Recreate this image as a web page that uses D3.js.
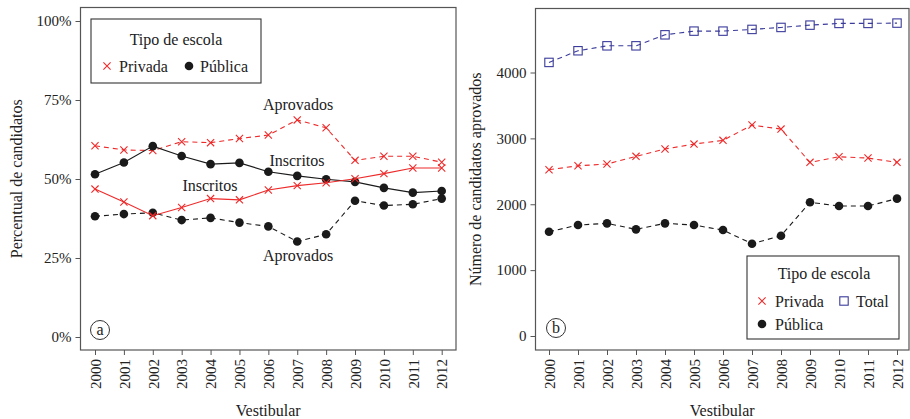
<!DOCTYPE html>
<html>
<head>
<meta charset="utf-8">
<script src="https://cdn.jsdelivr.net/npm/d3@7"></script>
<style>
  body { margin: 0; background: #fff; }
  svg text { font-family: "Liberation Serif", "DejaVu Serif", serif; fill: #222; }
</style>
</head>
<body>
<div id="chart"></div>
<script>
// data

const years = [2000, 2001, 2002, 2003, 2004, 2005, 2006, 2007, 2008, 2009, 2010, 2011, 2012];

// panel a: percent of candidates
const privInscritos = [46.8, 42.7, 38.4, 41.0, 43.8, 43.4, 46.5, 47.9, 48.8, 50.1, 51.7, 53.5, 53.5];
const privAprovados = [60.5, 59.2, 59.0, 61.8, 61.5, 62.8, 63.9, 68.7, 66.2, 55.9, 57.2, 57.2, 55.3];
const pubInscritos = [51.5, 55.2, 60.4, 57.3, 54.7, 55.1, 52.3, 51.0, 49.9, 49.1, 47.2, 45.7, 46.2];
const pubAprovados = [38.2, 38.9, 39.3, 37.0, 37.7, 36.2, 35.0, 30.2, 32.5, 43.1, 41.6, 42.0, 43.8];

// panel b: number of approved candidates
const totalAprov = [4153, 4330, 4405, 4405, 4572, 4628, 4628, 4654, 4684, 4719, 4745, 4745, 4750];
const privAprovN = [2524, 2584, 2610, 2727, 2838, 2913, 2970, 3202, 3141, 2636, 2721, 2701, 2636];
const pubAprovN = [1583, 1684, 1710, 1619, 1710, 1684, 1608, 1401, 1522, 2030, 1973, 1973, 2085];

const pctTicks = [0, 0.25, 0.5, 0.75, 1];
const numTicks = [0, 1000, 2000, 3000, 4000];

const RED = "#ee2a2a";
const BLUE = "#3b3b9c";
const BLACK = "#1a1a1a";
const FS = "16px";

const svg = d3.select("#chart")
  .append("svg")
  .attr("width", 910)
  .attr("height", 419);

// markers

function drawMarker(g, shape, x, y, color) {
  if (shape === "dot") {
    g.append("circle").attr("cx", x).attr("cy", y).attr("r", 4.3).attr("fill", color);
  } else if (shape === "cross") {
    const s = 3.6;
    g.append("path")
      .attr("d", `M${x - s},${y - s}L${x + s},${y + s}M${x - s},${y + s}L${x + s},${y - s}`)
      .attr("stroke", color).attr("stroke-width", 1.1).attr("fill", "none");
  } else {
    g.append("rect").attr("x", x - 4.2).attr("y", y - 4.2).attr("width", 8.4).attr("height", 8.4)
      .attr("stroke", color).attr("stroke-width", 1.1).attr("fill", "none");
  }
}

function drawSeries(g, x, y, values, color, shape, dashed) {
  const line = d3.line().x((d, i) => x(years[i])).y((d) => y(d));
  g.append("path")
    .datum(values)
    .attr("d", line)
    .attr("fill", "none")
    .attr("stroke", color)
    .attr("stroke-width", 1.1)
    .attr("stroke-dasharray", dashed ? "5,4" : null);
  values.forEach((v, i) => drawMarker(g, shape, x(years[i]), y(v), color));
}

function drawPanel(p) {
  const g = svg.append("g");
  const x = d3.scaleLinear().domain([2000, 2012]).range(p.xRange);
  const y = d3.scaleLinear().domain(p.yDomain).range(p.yRange);

  // frame
  g.append("rect")
    .attr("x", p.frame[0]).attr("y", p.frame[1])
    .attr("width", p.frame[2] - p.frame[0]).attr("height", p.frame[3] - p.frame[1])
    .attr("fill", "none").attr("stroke", "#555").attr("stroke-width", 1.2);

  // axes
  const ax = g.append("g")
    .attr("transform", `translate(0,${p.frame[3]})`)
    .call(d3.axisBottom(x).tickValues(years).tickFormat(d3.format("d")).tickSize(5));
  ax.select(".domain").remove();
  ax.selectAll("line").attr("stroke", "#555");
  ax.selectAll("text")
    .attr("transform", "rotate(-90)")
    .attr("text-anchor", "end")
    .attr("x", -9).attr("y", 0).attr("dy", "0.35em")
    .style("font-size", "15px");

  const ay = g.append("g")
    .attr("transform", `translate(${p.frame[0]},0)`)
    .call(d3.axisLeft(y).tickValues(p.ticks).tickFormat(p.fmt).tickSize(5));
  ay.select(".domain").remove();
  ay.selectAll("line").attr("stroke", "#555");
  ay.selectAll("text").attr("x", -9).style("font-size", "15px");

  g.append("text")
    .attr("transform", `translate(${p.yTitleX},${(p.frame[1] + p.frame[3]) / 2}) rotate(-90)`)
    .attr("text-anchor", "middle").attr("dy", "0.35em")
    .style("font-size", FS)
    .text(p.yTitle);

  g.append("text")
    .attr("x", (p.frame[0] + p.frame[2]) / 2).attr("y", 416)
    .attr("text-anchor", "middle")
    .style("font-size", FS)
    .text("Vestibular");

  // series
  p.series.forEach((s) => drawSeries(g, x, y, s.values, s.color, s.shape, s.dashed));

  // panel letter
  g.append("circle").attr("cx", p.letterPos[0]).attr("cy", p.letterPos[1]).attr("r", 9.5)
    .attr("fill", "none").attr("stroke", "#333").attr("stroke-width", 1);
  g.append("text").attr("x", p.letterPos[0]).attr("y", p.letterPos[1]).attr("dy", "0.33em")
    .attr("text-anchor", "middle").style("font-size", FS).text(p.letter);

  return { g, x, y };
}

// panel a

const a = drawPanel({
  xRange: [95, 441.7],
  yDomain: [0, 1],
  yRange: [337, 21],
  frame: [80.5, 7.5, 456, 350],
  ticks: pctTicks,
  fmt: d3.format(".0%"),
  yTitle: "Percentual de candidatos",
  yTitleX: 16,
  letter: "a",
  letterPos: [100, 330],
  series: [
    { values: privAprovados.map((v) => v / 100), color: RED, shape: "cross", dashed: true },
    { values: pubAprovados.map((v) => v / 100), color: BLACK, shape: "dot", dashed: true },
    { values: pubInscritos.map((v) => v / 100), color: BLACK, shape: "dot", dashed: false },
    { values: privInscritos.map((v) => v / 100), color: RED, shape: "cross", dashed: false }
  ]
});

const labels = [
  { t: "Aprovados", x: 298, y: 104 },
  { t: "Inscritos", x: 297, y: 160 },
  { t: "Inscritos", x: 210, y: 185 },
  { t: "Aprovados", x: 298, y: 255 }
];
a.g.selectAll("text.lab")
  .data(labels)
  .join("text")
  .attr("class", "lab")
  .attr("x", (d) => d.x).attr("y", (d) => d.y).attr("dy", "0.35em")
  .attr("text-anchor", "middle")
  .style("font-size", FS)
  .text((d) => d.t);

// legend a
const la = a.g.append("g");
la.append("rect").attr("x", 91).attr("y", 19).attr("width", 170).attr("height", 64)
  .attr("fill", "#fff").attr("stroke", "#333").attr("stroke-width", 1.1);
la.append("text").attr("x", 176).attr("y", 39).attr("dy", "0.35em").attr("text-anchor", "middle")
  .style("font-size", FS).text("Tipo de escola");
drawMarker(la, "cross", 107, 66, RED);
la.append("text").attr("x", 119).attr("y", 66).attr("dy", "0.35em").style("font-size", FS).text("Privada");
drawMarker(la, "dot", 189, 66, BLACK);
la.append("text").attr("x", 200).attr("y", 66).attr("dy", "0.35em").style("font-size", FS).text("Pública");

// panel b

const b = drawPanel({
  xRange: [549, 897],
  yDomain: [0, 4000],
  yRange: [336, 72.5],
  frame: [535.5, 8.5, 909, 350],
  ticks: numTicks,
  fmt: d3.format("d"),
  yTitle: "Número de candidatos aprovados",
  yTitleX: 475,
  letter: "b",
  letterPos: [556, 328],
  series: [
    { values: totalAprov, color: BLUE, shape: "square", dashed: true },
    { values: privAprovN, color: RED, shape: "cross", dashed: true },
    { values: pubAprovN, color: BLACK, shape: "dot", dashed: true }
  ]
});

// legend b
const lb = b.g.append("g");
lb.append("rect").attr("x", 747).attr("y", 256).attr("width", 152).attr("height", 83)
  .attr("fill", "#fff").attr("stroke", "#333").attr("stroke-width", 1.1);
lb.append("text").attr("x", 824).attr("y", 273).attr("dy", "0.35em").attr("text-anchor", "middle")
  .style("font-size", FS).text("Tipo de escola");
drawMarker(lb, "cross", 762, 301, RED);
lb.append("text").attr("x", 775).attr("y", 301).attr("dy", "0.35em").style("font-size", FS).text("Privada");
drawMarker(lb, "square", 844, 301, BLUE);
lb.append("text").attr("x", 856).attr("y", 301).attr("dy", "0.35em").style("font-size", FS).text("Total");
drawMarker(lb, "dot", 762, 324, BLACK);
lb.append("text").attr("x", 775).attr("y", 324).attr("dy", "0.35em").style("font-size", FS).text("Pública");
</script>
</body>
</html>
